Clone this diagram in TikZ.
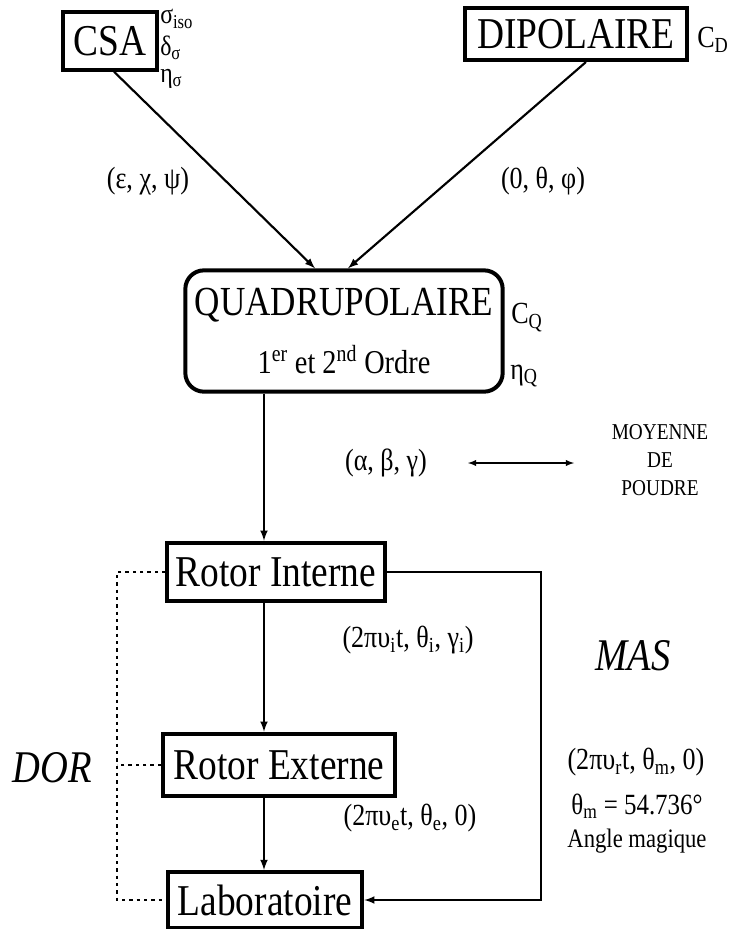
\documentclass[tikz,border=0pt]{standalone}
\usepackage{fontspec}
\setmainfont{Liberation Serif}[FakeStretch=0.85]
\usetikzlibrary{positioning}
\tikzset{>=latex}
\tikzset{
  bloc/.style={draw, line width=3pt, inner sep=0pt, font=\fontsize{33}{36}\selectfont},
  lien/.style={->, line width=1.6pt},
  lbl/.style={inner sep=0pt, font=\fontsize{23}{25}\selectfont},
  petit/.style={inner sep=0pt, font=\fontsize{17}{21}\selectfont, align=center},
  grand/.style={inner sep=0pt, font=\fontsize{34}{36}\selectfont\itshape},
}

\begin{document}
\begin{tikzpicture}[x=0.75pt,y=-0.75pt]
\useasboundingbox (0,0) rectangle (733,929);
% interactions
\node[bloc, minimum width=70pt, minimum height=43pt] (csa) at (110,41) {CSA};
\node[bloc, minimum width=167pt, minimum height=39pt] (dip) at (576,34) {DIPOLAIRE};
\node[bloc, rounded corners=14pt, minimum width=238pt, minimum height=91pt,
  align=center, font=\fontsize{31}{43}\selectfont] (quad) at (344,331)
  {QUADRUPOLAIRE\\{\fontsize{25}{27}\selectfont 1\textsuperscript{er} et 2\textsuperscript{nd} Ordre}};
\node[lbl, anchor=west, font=\fontsize{21}{23}\selectfont] (siso) at (160,19) {σ\textsubscript{iso}};
\node[lbl, anchor=west, font=\fontsize{21}{23}\selectfont] (dsig) at (160,48) {δ\textsubscript{σ}};
\node[lbl, anchor=west, font=\fontsize{21}{23}\selectfont] (esig) at (160,79) {η\textsubscript{σ}};
\node[lbl, anchor=west] (cd) at (697,40) {C\textsubscript{D}};
\node[lbl, anchor=west] (cq) at (511,318) {C\textsubscript{Q}};
\node[lbl, anchor=west] (eq) at (510,376) {η\textsubscript{Q}};
% angles d'Euler
\node[lbl] (ecp) at (148,181) {(ε, χ, ψ)};
\node[lbl] (otp) at (543,181) {(0, θ, φ)};
\node[lbl] (abg) at (386,463) {(α, β, γ)};
\node[petit] (moy) at (660,460) {MOYENNE\\DE\\POUDRE};
\coordinate (avg1) at (468,463);
\coordinate (avg2) at (574,463);
\draw[<->, line width=1.1pt] (avg1) -- (avg2);
% rotors
\node[bloc, minimum width=163pt, minimum height=44pt] (rint) at (276,572) {Rotor Interne};
\node[bloc, minimum width=174pt, minimum height=47pt] (rext) at (279,765) {Rotor Externe};
\node[bloc, minimum width=146pt, minimum height=42pt] (lab) at (265,900) {Laboratoire};
\node[lbl] (rotint) at (408,640) {(2πυ\textsubscript{i}t, θ\textsubscript{i}, γ\textsubscript{i})};
\node[lbl] (rotext) at (410,818) {(2πυ\textsubscript{e}t, θ\textsubscript{e}, 0)};
\node[lbl] (rotmas) at (636,762) {(2πυ\textsubscript{r}t, θ\textsubscript{m}, 0)};
\node[lbl, font=\fontsize{22}{24}\selectfont] (thm) at (637,806) {θ\textsubscript{m} = 54.736°};
\node[lbl, font=\fontsize{20}{22}\selectfont] (ang) at (637,841) {Angle magique};
\node[grand] (mas) at (633,656) {MAS};
\node[grand] (dor) at (52,768) {DOR};
% liaisons
\coordinate (axe) at (264,0);
\coordinate (dorx) at (117,0);
\coordinate (masx) at (541,0);
\draw[lien] (csa.south) ++(4,0) -- ([xshift=-21.75pt]quad.north);
\draw[lien] (dip.south) ++(10,0) -- ([xshift=3pt]quad.north);
\draw[lien] (quad.south -| axe) -- (rint.north -| axe);
\draw[lien] (rint.south -| axe) -- (rext.north -| axe);
\draw[lien] (rext.south -| axe) -- (lab.north -| axe);
\draw[lien] (rint.east) -| (masx |- lab.east) -- (lab.east);
\draw[line width=1.5pt, dash pattern=on 2.5pt off 3pt] (rint.west) -| (dorx |- lab.west) -- (lab.west);
\draw[line width=1.5pt, dash pattern=on 2.5pt off 3pt] (rext.west) -- (rext.west -| dorx);
\end{tikzpicture}
\end{document}
